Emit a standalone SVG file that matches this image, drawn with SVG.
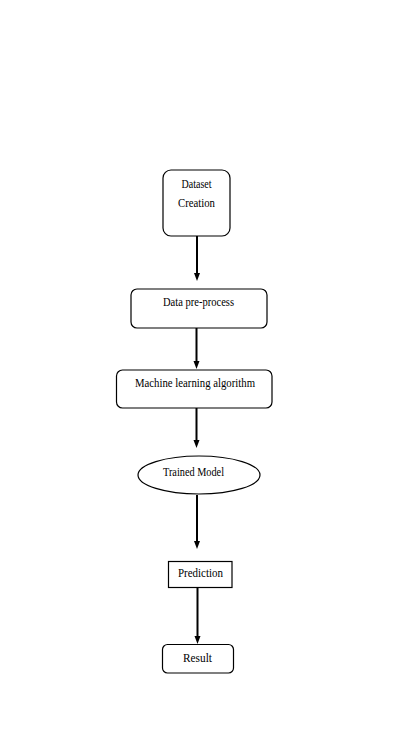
<svg xmlns="http://www.w3.org/2000/svg" width="400" height="734" viewBox="0 0 400 734">
<defs>
<style>
.shape{fill:#fff;stroke:#000;stroke-width:1.2}
.lbl{font-family:"Liberation Serif","Times New Roman",serif;font-size:12px;fill:#000}
.conn{stroke:#000;stroke-width:2;fill:none}
</style>
<marker id="arr" markerUnits="userSpaceOnUse" markerWidth="8" markerHeight="7" refX="4" refY="3" orient="auto">
<path d="M0,0 L8,3 L0,6 z" fill="#000"/>
</marker>
</defs>
<rect width="400" height="734" fill="#fff"/>
<g id="connectors">
<line class="conn" x1="197" y1="236" x2="197" y2="277" marker-end="url(#arr)"/>
<line class="conn" x1="196.5" y1="328" x2="196.5" y2="365" marker-end="url(#arr)"/>
<line class="conn" x1="196.5" y1="408" x2="196.5" y2="444" marker-end="url(#arr)"/>
<line class="conn" x1="197" y1="495" x2="197" y2="545" marker-end="url(#arr)"/>
<line class="conn" x1="197.5" y1="588" x2="197.5" y2="640" marker-end="url(#arr)"/>
</g>
<g id="dataset">
<rect class="shape" x="163" y="170" width="67" height="66" rx="8"/>
<text class="lbl" x="181.5" y="188" textLength="30" lengthAdjust="spacingAndGlyphs">Dataset</text>
<text class="lbl" x="178" y="207" textLength="37" lengthAdjust="spacingAndGlyphs">Creation</text>
</g>
<g id="preprocess">
<rect class="shape" x="131" y="289" width="136" height="39" rx="6"/>
<text class="lbl" x="163" y="306" textLength="71" lengthAdjust="spacingAndGlyphs">Data pre-process</text>
</g>
<g id="ml">
<rect class="shape" x="116.5" y="370" width="155.5" height="38" rx="6"/>
<text class="lbl" x="135" y="387" textLength="120" lengthAdjust="spacingAndGlyphs">Machine learning algorithm</text>
</g>
<g id="model">
<ellipse class="shape" cx="199" cy="475" rx="61" ry="19"/>
<text class="lbl" x="163" y="476" textLength="61" lengthAdjust="spacingAndGlyphs">Trained Model</text>
</g>
<g id="prediction">
<rect class="shape" x="168.5" y="561.5" width="63.5" height="26"/>
<text class="lbl" x="178" y="577" textLength="45" lengthAdjust="spacingAndGlyphs">Prediction</text>
</g>
<g id="result">
<rect class="shape" x="162.5" y="644.5" width="71" height="28.5" rx="5"/>
<text class="lbl" x="183" y="662" textLength="29" lengthAdjust="spacingAndGlyphs">Result</text>
</g>
</svg>
